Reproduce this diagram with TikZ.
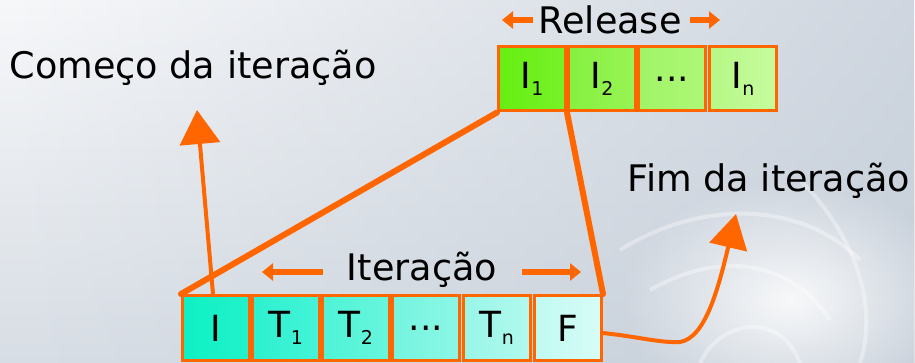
\documentclass[tikz,border=0pt]{standalone}
\usepackage{fontspec}
\setmainfont{DejaVu Sans}
\usetikzlibrary{arrows.meta,calc,fadings}
\tikzfading[name=glowfade, inner color=transparent!0, outer color=transparent!100]
\tikzfading[name=tor, left color=transparent!100, right color=transparent!0]
\definecolor{org}{HTML}{FF6600}
\definecolor{bgt}{RGB}{247,248,250}
\definecolor{bgb}{RGB}{216,222,229}
\definecolor{bgr}{RGB}{190,200,212}
\definecolor{ra1}{HTML}{66EE11}\definecolor{rb1}{HTML}{77F22A}
\definecolor{ra2}{HTML}{85F040}\definecolor{rb2}{HTML}{98F455}
\definecolor{ra3}{HTML}{A0F466}\definecolor{rb3}{HTML}{AEF778}
\definecolor{ra4}{HTML}{B6F886}\definecolor{rb4}{HTML}{C6FB9E}
\definecolor{ta1}{HTML}{0EF0C4}\definecolor{tb1}{HTML}{22F2CC}
\definecolor{ta2}{HTML}{2CF0CF}\definecolor{tb2}{HTML}{45F4D8}
\definecolor{ta3}{HTML}{4EF3D6}\definecolor{tb3}{HTML}{68F6DE}
\definecolor{ta4}{HTML}{74F4DF}\definecolor{tb4}{HTML}{8CF7E6}
\definecolor{ta5}{HTML}{98F6E7}\definecolor{tb5}{HTML}{B2F9EE}
\definecolor{ta6}{HTML}{C0FAF1}\definecolor{tb6}{HTML}{D8FCF7}
\newcommand{\sbx}[1]{\raisebox{-7pt}{\fontsize{19}{19}\selectfont #1}}
\tikzset{
  lbl/.style={font=\fontsize{36.6}{40}\selectfont, text=black, inner sep=0pt},
  box/.style={draw=org, line width=3pt, minimum width=67pt, minimum height=64pt, inner sep=0pt,
     font=\fontsize{36}{40}\selectfont},
  rbox/.style={box},
  bbox/.style={box, minimum height=65pt},
  thick line/.style={draw=org, line width=6pt},
  small arrow/.style={draw=org, line width=6pt, -{Triangle[length=11pt,width=17pt]}},
  big arrow/.style={draw=org, line width=4pt, -{Triangle[length=34pt,width=40pt]}},
  smoke/.style={draw=white, line width=4pt, opacity=0.35},
}
\begin{document}
\begin{tikzpicture}[x=1pt,y=-1pt]
\useasboundingbox (0,0) rectangle (915,363);
% background
\shade[top color=bgt, bottom color=bgb] (0,0) rectangle (915,363);
\fill[bgr, path fading=tor, opacity=0.7] (0,0) rectangle (915,363);
\fill[white, path fading=glowfade, opacity=0.85] (790,300) ellipse (170 and 120);
\draw[smoke] (620,250) .. controls (700,200) and (800,200) .. (860,260);
\draw[smoke] (650,290) .. controls (720,250) and (790,260) .. (830,320);
\draw[smoke] (700,363) .. controls (720,320) and (780,310) .. (800,363);
\draw[smoke] (860,363) .. controls (880,300) and (850,230) .. (800,180);
% release boxes
\node[rbox, left color=ra1, right color=rb1] (r1) at (532,79) {I\sbx{1}};
\node[rbox, left color=ra2, right color=rb2] (r2) at (602,79) {I\sbx{2}};
\node[rbox, left color=ra3, right color=rb3] (r3) at (672,79) {...};
\node[rbox, left color=ra4, right color=rb4] (r4) at (743,79) {I\sbx{n}};
% iteration boxes
\node[bbox, left color=ta1, right color=tb1] (b1) at (216,328) {I};
\node[bbox, left color=ta2, right color=tb2] (b2) at (286,328) {T\sbx{1}};
\node[bbox, left color=ta3, right color=tb3] (b3) at (356,328) {T\sbx{2}};
\node[bbox, left color=ta4, right color=tb4] (b4) at (426,328) {...};
\node[bbox, left color=ta5, right color=tb5] (b5) at (497,328) {T\sbx{n}};
\node[bbox, left color=ta6, right color=tb6] (b6) at (568,328) {F};
% labels
\node[lbl] (rel) at (610,20) {Release};
\node[lbl] (ite) at (422,270) {Iteração};
\node[lbl] (com) at (193,68) {Começo da iteração};
\node[lbl] (fim) at (769,181) {Fim da iteração};
% small arrows
\coordinate (rl1) at (533,20); \coordinate (rl2) at (502,20);
\coordinate (rr1) at (690,20); \coordinate (rr2) at (720,20);
\draw[small arrow] (rl1) -- (rl2);
\draw[small arrow] (rr1) -- (rr2);
\coordinate (il1) at (323,272); \coordinate (il2) at (262,272);
\coordinate (ir1) at (522,272); \coordinate (ir2) at (581,272);
\draw[small arrow] (il1) -- (il2);
\draw[small arrow] (ir1) -- (ir2);
% trapezoid
\draw[thick line, line cap=round] (r1.south west) -- (b1.north west);
\draw[thick line, line cap=round] (r1.south east) -- (b6.north east);
% start arrow
\coordinate (cs) at ($(b1.north)+(-3,0)$);
\coordinate (ce) at (197,110);
\draw[big arrow] (cs) -- (ce);
% end arrow
\coordinate (fs) at ($(b6.east)+(0,5)$);
\coordinate (fm) at (680,342);
\coordinate (fe) at (736,214);
\draw[big arrow, -{Triangle[length=34pt,width=38pt]}] (fs) .. controls (640,337) and (660,343) .. (fm) .. controls (705,338) and (718,290) .. (fe);
\end{tikzpicture}
\end{document}
